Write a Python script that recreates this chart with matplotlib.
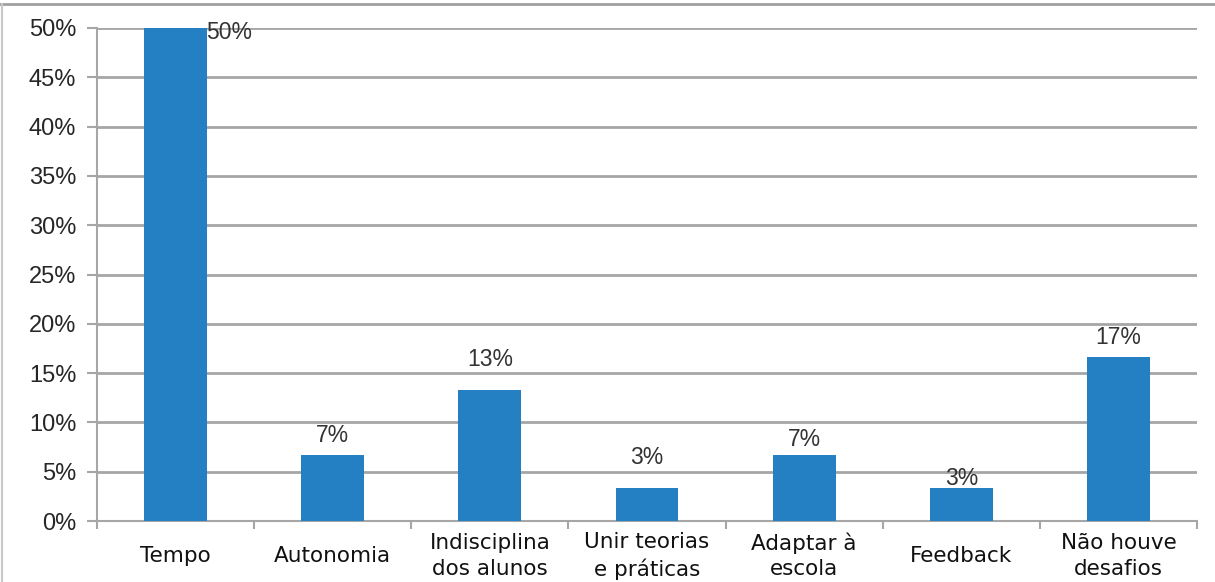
import matplotlib
matplotlib.use("Agg")
import matplotlib.pyplot as plt
import numpy as np

# Dados
categorias = ["Tempo", "Autonomia", "Indisciplina\ndos alunos", "Unir teorias\ne práticas",
              "Adaptar à\nescola", "Feedback", "Não houve\ndesafios"]
valores = [50.0, 6.67, 13.33, 3.33, 6.67, 3.33, 16.67]
rotulos = ["50%", "7%", "13%", "3%", "7%", "3%", "17%"]
yticks = [0, 5, 10, 15, 20, 25, 30, 35, 40, 45, 50]

fig = plt.figure(figsize=(12.15, 5.82), dpi=100)
ax = fig.add_axes([97/1215, 1-521/582, 1100/1215, 493/582])

x = np.arange(len(categorias))
ax.bar(x, valores, width=0.4, color="#2580C3", zorder=3)

ax.set_xlim(-0.5, len(categorias)-0.5)
ax.set_ylim(0, 50)
ax.set_yticks(yticks)
ax.set_yticklabels([f"{v}%" for v in yticks], fontname="Liberation Sans", fontsize=17, color="#262626")
ax.yaxis.grid(True, color="#a6a6a6", linewidth=2, zorder=0)
ax.tick_params(axis="y", length=7, width=1.5, color="#a6a6a6", pad=8)

# ticks do eixo x nas fronteiras das categorias
ax.set_xticks(np.arange(-0.5, len(categorias)), minor=False)
ax.set_xticklabels([""] * (len(categorias)+1))
ax.set_xticks(x, minor=True)
ax.set_xticklabels(categorias, minor=True, fontname="DejaVu Sans", fontsize=15.5, color="#111111")
ax.tick_params(axis="x", which="major", length=6, width=1.5, color="#a6a6a6")
ax.tick_params(axis="x", which="minor", length=0, pad=25)
for lab in ax.get_xticklabels(minor=True):
    lab.set_linespacing(1.35)
    lab.set_verticalalignment("center")

for s in ["top", "right"]:
    ax.spines[s].set_visible(False)
for s in ["left", "bottom"]:
    ax.spines[s].set_color("#a6a6a6")
    ax.spines[s].set_linewidth(1.5)

# rotulos de dados
desloc = [0, 14, 22, 22, 11, 7, 14]
for i, (v, r) in enumerate(zip(valores, rotulos)):
    if i == 0:
        ax.annotate(r, (i + 0.2, v), xytext=(-1, -3), textcoords="offset points",
                    ha="left", va="center", fontname="Liberation Sans", fontsize=16.5, color="#333333")
    else:
        ax.annotate(r, (i, v), xytext=(0, desloc[i]), textcoords="offset points",
                    ha="center", va="center", fontname="Liberation Sans", fontsize=16.5, color="#333333")

# borda da figura
fig.add_artist(plt.Line2D([0, 1], [1-4/582, 1-4/582], color="#a0a0a0", linewidth=2, transform=fig.transFigure))
fig.add_artist(plt.Line2D([2/1215, 2/1215], [0, 1-4/582], color="#c8c8c8", linewidth=1.5, transform=fig.transFigure))

plt.savefig("out.png", dpi=100)
